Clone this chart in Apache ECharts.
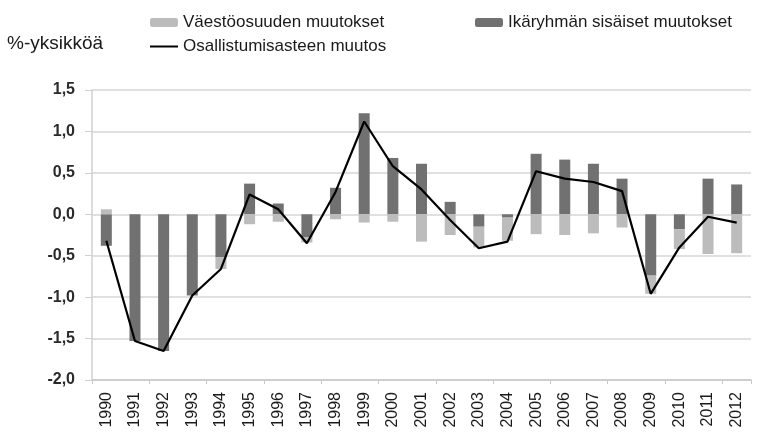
<!DOCTYPE html>
<html>
<head>
<meta charset="utf-8">
<script src="https://cdn.jsdelivr.net/npm/echarts@6/dist/echarts.min.js"></script>
<style>
    html, body {margin: 0; padding: 0; background: #fff;}
    #chart_container {width: 762px; height: 433px;}
</style>
</head>
<body>
<div id="chart_container"></div>
<script>
"use strict";

// vuodet
var years = ['1990', '1991', '1992', '1993', '1994', '1995', '1996', '1997', '1998', '1999', '2000',
    '2001', '2002', '2003', '2004', '2005', '2006', '2007', '2008', '2009', '2010', '2011', '2012'];

// Ikäryhmän sisäiset muutokset (tumma)
var ikaryhma = [-0.38, -1.53, -1.65, -0.98, -0.52, 0.37, 0.13, -0.28, 0.32, 1.22, 0.68,
    0.61, 0.15, -0.15, -0.04, 0.73, 0.66, 0.61, 0.43, -0.74, -0.18, 0.43, 0.36];

// Väestöosuuden muutokset (vaalea)
var vaesto = [0.06, 0, 0, 0, -0.14, -0.12, -0.09, -0.06, -0.06, -0.10, -0.09,
    -0.33, -0.25, -0.25, -0.28, -0.24, -0.25, -0.23, -0.16, -0.22, -0.24, -0.48, -0.47];

// Osallistumisasteen muutos (viiva)
var osallistuminen = [-0.32, -1.53, -1.65, -0.98, -0.66, 0.24, 0.06, -0.35, 0.27, 1.12, 0.58,
    0.30, -0.07, -0.41, -0.33, 0.52, 0.43, 0.39, 0.28, -0.96, -0.40, -0.03, -0.10];

var fontName = '"Liberation Sans", Arial, sans-serif';

function drawChart() {
    var myChart = echarts.init(document.getElementById('chart_container'));

    var legendText = {fontFamily: fontName, fontSize: 17, color: '#1a1a1a'};

    var option = {
        animation: false,
        grid: {left: 92, right: 11, top: 90, bottom: 53},
        graphic: [{
            type: 'text',
            left: 7,
            top: 34,
            style: {text: '%-yksikköä', font: '19px ' + fontName, fill: '#1a1a1a'}
        }],
        legend: [
            {left: 145, top: 9, itemWidth: 28, itemHeight: 9,
                textStyle: legendText, data: ['Väestöosuuden muutokset']},
            {left: 470, top: 9, itemWidth: 28, itemHeight: 9,
                textStyle: legendText, data: ['Ikäryhmän sisäiset muutokset']},
            {left: 145, top: 33, itemWidth: 28, itemHeight: 2,
                textStyle: legendText,
                data: [{name: 'Osallistumisasteen muutos', icon: 'rect', itemStyle: {color: '#000'}}]}
        ],
        xAxis: [{
            type: 'category',
            data: years,
            position: 'bottom',
            axisLine: {show: false},
            axisTick: {show: false},
            axisLabel: {
                rotate: 90,
                interval: 0,
                margin: 12,
                fontFamily: fontName,
                fontSize: 16,
                color: '#1a1a1a'
            }
        }, {
            type: 'category',
            data: years,
            position: 'bottom',
            axisLine: {onZero: true, lineStyle: {color: '#c8c8c8', width: 1.5}},
            axisTick: {show: true, length: 4, lineStyle: {color: '#c8c8c8'}},
            axisLabel: {show: false}
        }],
        yAxis: {
            type: 'value',
            min: -2,
            max: 1.5,
            interval: 0.5,
            axisLine: {show: true, lineStyle: {color: '#d0d0d0', width: 1.5}},
            axisTick: {show: true, length: 7, lineStyle: {color: '#d0d0d0'}},
            splitLine: {lineStyle: {color: '#d6d6d6', width: 1.5}},
            axisLabel: {
                margin: 17,
                fontFamily: fontName,
                fontSize: 16,
                fontWeight: 'bold',
                color: '#2a2a2a',
                formatter: function (v) {
                    return v.toFixed(1).replace('.', ',');
                }
            }
        },
        series: [{
            name: 'Ikäryhmän sisäiset muutokset',
            type: 'bar',
            stack: 'muutos',
            barWidth: 11,
            data: ikaryhma,
            itemStyle: {color: '#717171'}
        }, {
            name: 'Väestöosuuden muutokset',
            type: 'bar',
            stack: 'muutos',
            barWidth: 11,
            data: vaesto,
            itemStyle: {color: '#bcbcbc'}
        }, {
            name: 'Osallistumisasteen muutos',
            type: 'line',
            data: osallistuminen,
            symbol: 'none',
            lineStyle: {color: '#000', width: 2.2},
            itemStyle: {color: '#000'},
            z: 5
        }]
    };
    myChart.setOption(option);
}

drawChart();
</script>
</body>
</html>
